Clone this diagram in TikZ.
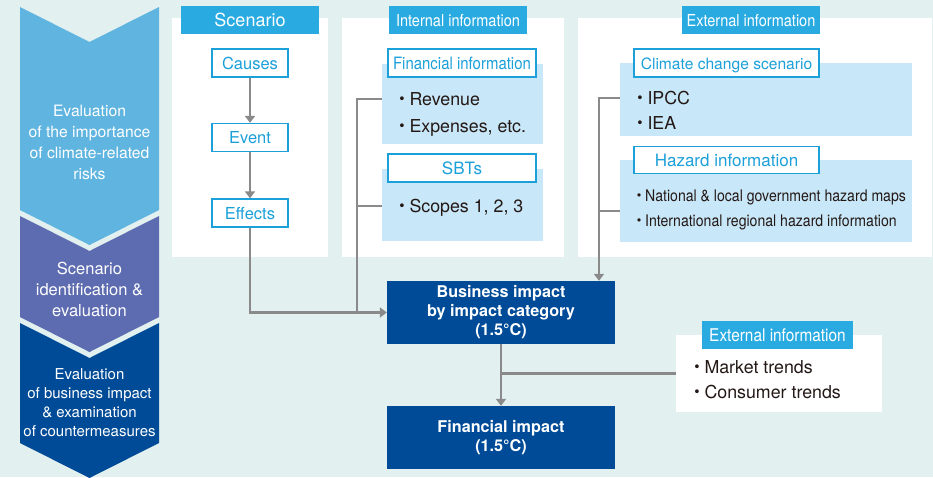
\documentclass[tikz,border=0pt]{standalone}
\usepackage{fontspec}
\setmainfont{TeX Gyre Heros}
\newfontfamily\condfont[FakeStretch=0.88]{TeX Gyre Heros}
\newfontfamily\cjk{Noto Sans CJK JP}
\usepackage{tikz}
\usetikzlibrary{positioning,arrows.meta,calc}

\definecolor{bgteal}{HTML}{E2F0F0}
\definecolor{chevA}{HTML}{5FB4E0}
\definecolor{chevB}{HTML}{5D6BB0}
\definecolor{chevC}{HTML}{004B97}
\definecolor{headblue}{HTML}{29ABE2}
\definecolor{labblue}{HTML}{1BA0DA}
\definecolor{lightblue}{HTML}{C8E7F8}
\definecolor{arrgray}{HTML}{8A8A8A}
\definecolor{inktext}{HTML}{231815}

\newcommand\fsz[2]{\fontsize{#1}{#2}\selectfont}
\newcommand\bul{{\cjk ・}\kern-2pt}

\tikzset{
  head/.style = {fill=headblue, text=white, inner sep=0, minimum height=28pt, text height=12pt, text depth=0pt},
  stepbox/.style = {draw=labblue, line width=1.3pt, fill=white, text=labblue, inner sep=0, minimum width=76pt, minimum height=28pt, text height=12pt, text depth=0pt, font=\fsz{16.5}{20}},
  labelbox/.style = {draw=labblue, line width=1.3pt, fill=white, text=labblue, inner sep=0, minimum height=28pt, text height=12pt, text depth=0pt, font=\fsz{17}{20}},
  lightbox/.style = {fill=lightblue, inner sep=0},
  item/.style = {anchor=base west, inner sep=0, text=inktext, font=\fsz{17.8}{20}},
  impact/.style = {fill=chevC, text=white, inner sep=0, minimum width=228pt, minimum height=63pt, align=center, font=\bfseries\fsz{16.2}{19}},
  chev/.style = {text=white, align=center},
  line/.style = {draw=arrgray, line width=2.2pt},
  arr/.style = {line, -{Triangle[width=10pt,length=7pt]}}
}

\begin{document}
\begin{tikzpicture}[x=1pt, y=-1pt]

\useasboundingbox (0,0) rectangle (933,477);
\fill[bgteal] (0,0) rectangle (933,477);

\fill[chevA] (20,7) -- (89.5,42) -- (159,7) -- (159,210) -- (89.5,245) -- (20,210) -- cycle;
\fill[chevB] (20,216) -- (89.5,251) -- (159,216) -- (159,317) -- (89.5,352) -- (20,317) -- cycle;
\fill[chevC] (20,323) -- (89.5,358) -- (159,323) -- (159,443) -- (89.5,478) -- (20,443) -- cycle;

\node[chev, font=\fsz{15.7}{21}] (stA) at (89.5,142) {Evaluation\\of the importance\\of climate-related\\risks};
\node[chev, font=\fsz{16.5}{21}] (stB) at (89.5,289) {Scenario\\identification \&\\evaluation};
\node[chev, font=\fsz{15}{19}] (stC) at (89.5,402.5) {Evaluation\\of business impact\\\& examination\\of countermeasures};

\fill[white] (172,18) rectangle (328,257);
\fill[white] (342,18) rectangle (564,257);
\fill[white] (578,18) rectangle (932,257);

\node[head, minimum width=138pt, font=\fsz{18}{20}] (hsc) at (250,20) {Scenario};
\node[head, minimum width=138pt, font=\condfont\fsz{16.5}{20}] (hin) at (458,20) {Internal information};
\node[head, minimum width=138pt, font=\condfont\fsz{16.5}{20}] (hex) at (751,20) {External information};

\node[stepbox] (cau) at (250,63) {Causes};
\node[stepbox] (evt) at (250,137.5) {Event};
\node[stepbox] (eff) at (250,213) {Effects};

\node[lightbox, minimum width=161pt, minimum height=80pt] (finb) at (462.5,104) {};
\node[labelbox, minimum width=148pt, font=\condfont\fsz{17}{20}] (finl) at (462,63) {Financial information};
\node[item] (rev) at (393.5,105) {\bul Revenue};
\node[item] (exps) at (393.5,132) {\bul Expenses, etc.};

\node[lightbox, minimum width=161pt, minimum height=72pt] (sbtb) at (462.5,205) {};
\node[labelbox, minimum width=148pt] (sbtl) at (462,168) {SBTs};
\node[item] (scp) at (393.5,212) {\bul Scopes 1, 2, 3};

\node[lightbox, minimum width=292pt, minimum height=73pt] (climb) at (766,99.5) {};
\node[labelbox, minimum width=185pt, font=\fsz{15.6}{20}] (climl) at (726.5,63) {Climate change scenario};
\node[item] (ipcc) at (631.5,104) {\bul IPCC};
\node[item] (iea) at (631.5,129) {\bul IEA};

\node[lightbox, minimum width=292pt, minimum height=82pt] (hazb) at (766,201) {};
\node[labelbox, minimum width=185pt, minimum height=27pt] (hazl) at (726.5,160) {Hazard information};
\node[item, font=\condfont\fsz{16}{20}] (natl) at (631,201) {\bul National \& local government hazard maps};
\node[item, font=\condfont\fsz{16}{20}] (intl) at (631,226) {\bul International regional hazard information};

\node[impact] (biz) at (501,312.5) {Business impact\\by impact category\\(1.5°C)};
\node[impact] (fimp) at (501,437.5) {Financial impact\\(1.5°C)};

\node[fill=white, inner sep=0, minimum width=206pt, minimum height=77pt] (mktb) at (779,373.5) {};
\node[head, minimum width=151pt, font=\condfont\fsz{17.5}{20}] (hmk) at (777.5,335) {External information};
\node[item] (mkt) at (688.5,373) {\bul Market trends};
\node[item] (csm) at (688.5,398) {\bul Consumer trends};

\coordinate (jfin) at (357,99);
\coordinate (jsbt) at (357,206);
\coordinate (jcl) at (599,98);
\coordinate (jhz) at (599,211);

\draw[arr] (cau) -- (evt);
\draw[arr] (evt) -- (eff);
\draw[arr] (eff) |- (biz);
\draw[line] (finb.west |- jfin) -- (jfin) -- (jfin |- biz.west);
\draw[line] (sbtb.west |- jsbt) -- (jsbt);
\draw[arr] (climb.west |- jcl) -- (jcl) -- (jcl |- biz.north);
\draw[line] (hazb.west |- jhz) -- (jhz);
\draw[arr] (biz) -- (fimp);
\draw[line] (mktb.west) -- (mktb.west -| biz);

\end{tikzpicture}
\end{document}
